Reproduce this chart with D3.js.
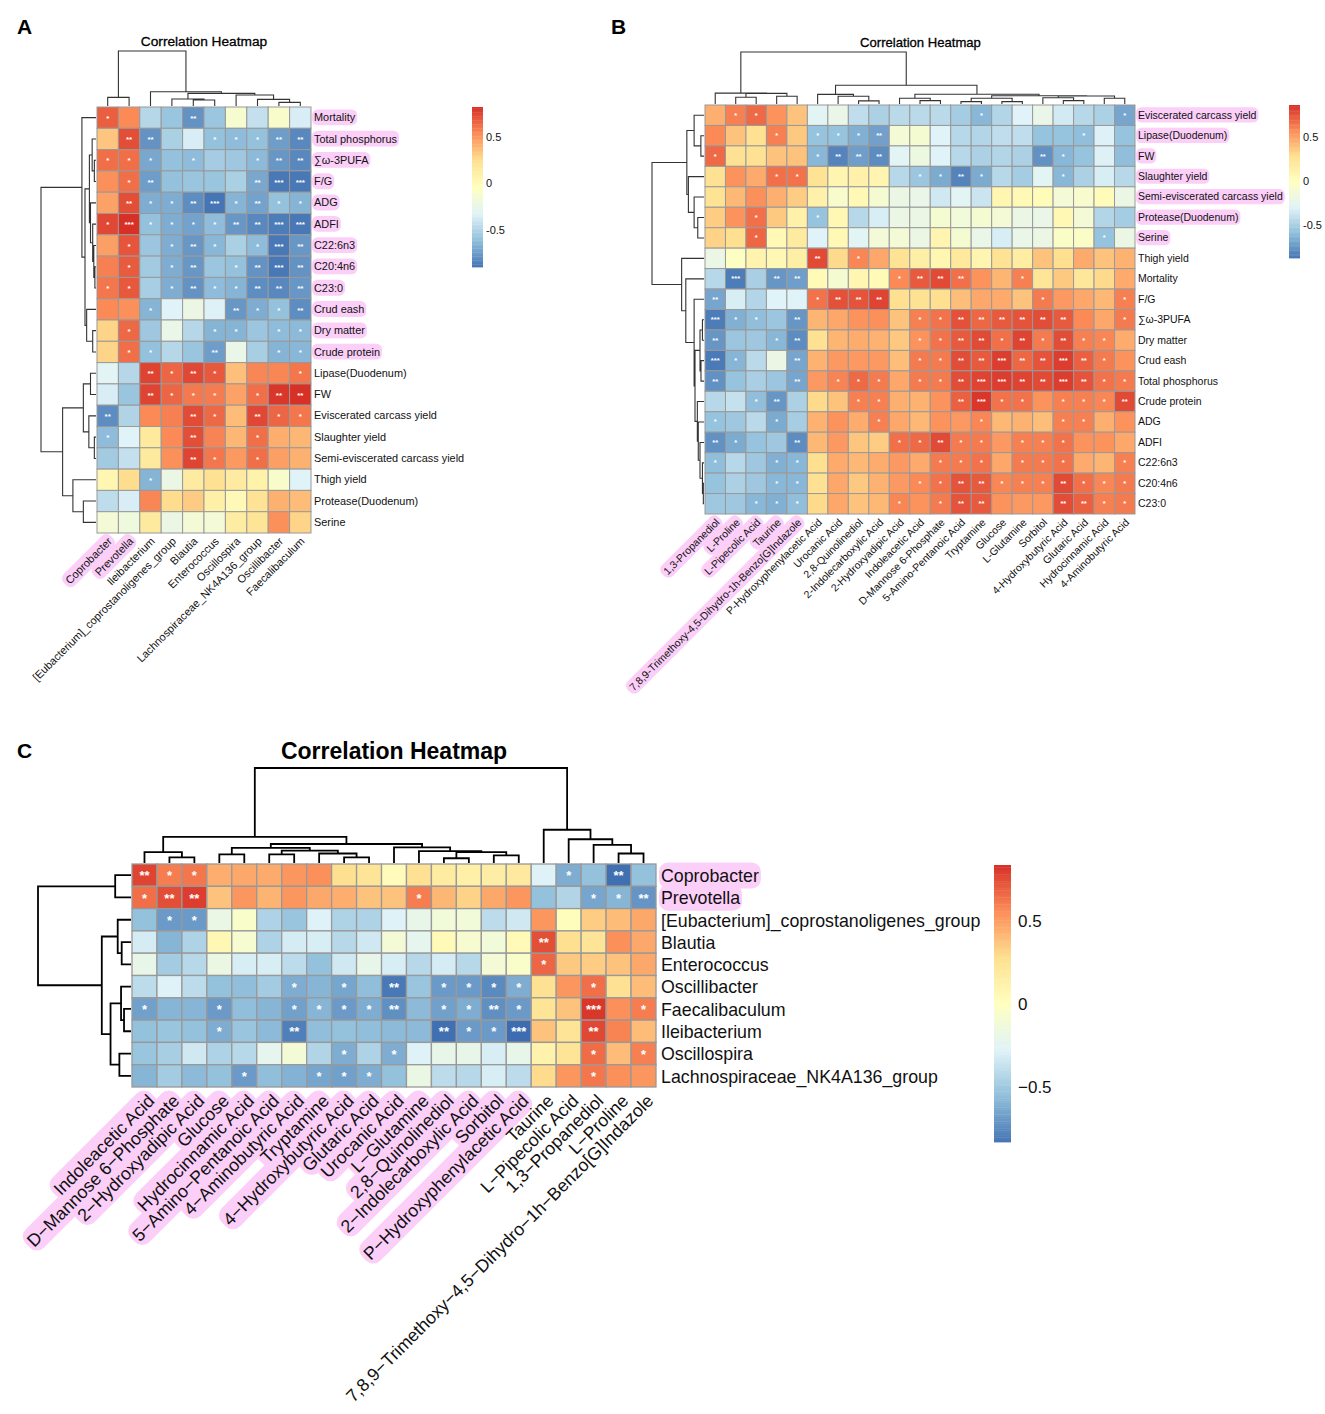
<!DOCTYPE html>
<html><head><meta charset="utf-8">
<script src="https://cdn.jsdelivr.net/npm/d3@7/dist/d3.min.js"></script>
<style>html,body{margin:0;padding:0;background:#fff}svg{display:block}text{font-family:"Liberation Sans",Arial,sans-serif}</style>
</head><body><svg id="fig" width="1325" height="1414"></svg>
<script>
const palette=["#4575B4","#91BFDB","#E0F3F8","#FFFFBF","#FEE090","#FC8D59","#D73027"];
const heatTitle="Correlation Heatmap";

// ---------- Panel A ----------
const rowsA=["Mortality","Total phosphorus","∑ω-3PUFA","F/G","ADG","ADFI","C22:6n3","C20:4n6","C23:0","Crud eash","Dry matter","Crude protein","Lipase(Duodenum)","FW","Eviscerated carcass yield","Slaughter yield","Semi-eviscerated carcass yield","Thigh yield","Protease(Duodenum)","Serine"];
const colsA=["Coprobacter","Prevotella","Ileibacterium","[Eubacterium]_coprostanoligenes_group","Blautia","Enterococcus","Oscillospira","Lachnospiraceae_NK4A136_group","Oscillibacter","Faecalibaculum"];
const valuesA=[
[.68,.55,-.45,-.55,-.75,-.54,-.1,-.4,-.08,-.33],
[.35,.73,-.75,-.49,-.33,-.57,-.59,-.57,-.71,-.79],
[.63,.63,-.67,-.57,-.59,-.51,-.53,-.6,-.73,-.79],
[.53,.63,-.71,-.57,-.55,-.55,-.49,-.67,-.85,-.85],
[.47,.73,-.65,-.65,-.77,-.86,-.62,-.69,-.57,-.62],
[.75,.82,-.57,-.65,-.69,-.59,-.73,-.79,-.83,-.85],
[.48,.71,-.54,-.65,-.73,-.61,-.49,-.59,-.85,-.73],
[.58,.69,-.52,-.65,-.73,-.54,-.57,-.75,-.85,-.75],
[.61,.7,-.5,-.65,-.75,-.59,-.62,-.77,-.79,-.73],
[.55,.53,-.62,-.3,-.2,-.31,-.73,-.65,-.57,-.77],
[.3,.65,-.53,-.22,-.45,-.62,-.62,-.54,-.59,-.6],
[.3,.63,-.57,-.45,-.55,-.71,-.22,-.5,-.62,-.61],
[-.28,-.45,.76,.66,.75,.7,.37,.56,.56,.61],
[-.33,-.55,.76,.66,.6,.59,.47,.63,.8,.82],
[-.77,-.47,.55,.58,.74,.65,.38,.75,.66,.61],
[-.59,-.3,.18,.55,.73,.57,.4,.63,.43,.4],
[-.52,-.4,.17,.53,.76,.61,.5,.63,.48,.42],
[.06,.27,-.62,-.2,.16,.25,.16,.1,-.08,-.3],
[-.42,-.33,.56,.27,.33,.12,.03,.23,.42,.38],
[-.13,-.17,.17,-.2,-.13,-.13,.15,.22,.53,.3]];
const starsA=[
[1,0,0,0,2,0,0,0,0,0],[0,2,2,0,0,1,1,1,2,2],[1,1,1,0,1,0,0,1,2,2],[0,1,2,0,0,0,0,2,3,3],
[0,2,1,1,2,3,1,2,1,1],[1,3,1,1,1,1,2,2,3,3],[0,1,0,1,2,1,0,1,3,2],[0,1,0,1,2,0,1,2,3,2],
[1,1,0,1,2,1,1,2,2,2],[0,0,1,0,0,0,2,1,1,2],[0,1,0,0,0,1,1,0,1,1],[0,1,1,0,0,2,0,0,1,1],
[0,0,2,1,2,1,0,0,0,1],[0,0,2,1,1,1,0,1,2,2],[2,0,0,0,2,1,0,2,1,1],[1,0,0,0,2,0,0,1,0,0],
[0,0,0,0,2,1,0,1,0,0],[0,0,1,0,0,0,0,0,0,0],[0,0,0,0,0,0,0,0,0,0],[0,0,0,0,0,0,0,0,0,0]];
const colTreeA=[1,[.157,0,1],[.26,2,[.23,[.127,3,[.108,4,5]],[.2,6,[.12,7,[.066,8,9]]]]]];
const rowTreeA=[1,[.256,0,[.2,[.12,[.07,1,[.03,2,3]],[.1,4,[.06,5,[.04,6,[.02,7,8]]]]],[.17,9,[.06,10,11]]]],[.607,[.23,[.1,12,13],[.13,14,[.03,15,16]]],[.42,17,[.23,18,19]]]];
const hiRowsA=rowsA.slice(0,12), hiColsA=colsA.slice(0,2);

// ---------- Panel B ----------
const rowsB=["Eviscerated carcass yield","Lipase(Duodenum)","FW","Slaughter yield","Semi-eviscerated carcass yield","Protease(Duodenum)","Serine","Thigh yield","Mortality","F/G","∑ω-3PUFA","Dry matter","Crud eash","Total phosphorus","Crude protein","ADG","ADFI","C22:6n3","C20:4n6","C23:0"];
const colsB=["1,3-Propanediol","L-Proline","L-Pipecolic Acid","Taurine","7,8,9-Trimethoxy-4,5-Dihydro-1h-Benzo[G]Indazole","P-Hydroxyphenylacetic Acid","Urocanic Acid","2,8-Quinolinediol","2-Indolecarboxylic Acid","2-Hydroxyadipic Acid","Indoleacetic Acid","D-Mannose 6-Phosphate","5-Amino-Pentanoic Acid","Tryptamine","Glucose","L-Glutamine","Sorbitol","4-Hydroxybutyric Acid","Glutaric Acid","Hydrocinnamic Acid","4-Aminobutyric Acid"];
const valuesB=[
[.45,.61,.68,.55,.38,-.28,-.22,-.42,-.49,-.44,-.44,-.44,-.52,-.62,-.47,-.3,-.22,-.35,-.45,-.49,-.69],
[.58,.38,.27,.61,.36,-.57,-.57,-.65,-.71,-.12,-.1,-.3,-.45,-.47,-.42,-.42,-.57,-.57,-.59,-.31,-.57],
[.68,.27,.27,.38,.38,-.62,-.82,-.72,-.79,-.28,-.18,-.3,-.45,-.49,-.47,-.49,-.77,-.62,-.57,-.31,-.59],
[.27,.55,.47,.66,.65,.25,.08,.12,.08,-.45,-.55,-.67,-.82,-.67,-.45,-.52,-.28,-.62,-.49,-.33,-.45],
[.25,.42,.56,.45,.35,.12,-.08,.05,-.1,-.2,-.22,-.36,-.28,-.38,.07,.05,.03,-.12,-.08,.02,-.2],
[.35,.55,.66,.36,.12,-.57,.06,-.45,-.33,-.2,-.2,-.1,-.14,-.1,-.12,-.2,-.22,.06,-.12,-.47,-.52],
[.33,.28,.69,.05,.18,-.3,.05,-.28,-.13,-.12,-.2,.08,-.1,-.22,-.33,-.22,-.2,-.05,-.05,-.57,-.2],
[-.2,-.03,.1,.06,.14,.78,.3,.59,.48,.25,.14,.07,.2,.08,.25,.16,.38,.28,.47,.38,.44],
[-.45,-.85,-.5,-.75,-.72,.04,-.1,.07,.04,.58,.73,.78,.66,.55,.43,.61,.23,.36,.22,.3,.47],
[-.69,-.33,-.47,-.3,-.3,.65,.76,.75,.8,.28,.26,.28,.4,.48,.47,.38,.63,.53,.48,.42,.61],
[-.85,-.65,-.59,-.55,-.75,.43,.48,.55,.56,.38,.61,.65,.76,.69,.73,.75,.77,.73,.58,.48,.63],
[-.75,-.55,-.54,-.62,-.79,.27,.43,.46,.44,.36,.55,.65,.73,.78,.66,.8,.63,.77,.61,.59,.46],
[-.86,-.63,-.44,-.2,-.69,.44,.53,.53,.53,.4,.63,.63,.77,.73,.82,.69,.75,.82,.71,.63,.55],
[-.77,-.57,-.5,-.55,-.69,.53,.6,.68,.63,.48,.63,.63,.77,.8,.82,.8,.78,.82,.75,.65,.63],
[-.45,-.4,-.59,-.75,-.49,.3,.38,.61,.61,.45,.44,.55,.71,.84,.65,.65,.55,.61,.61,.59,.78],
[-.57,-.54,-.44,-.67,-.51,.44,.55,.46,.61,.48,.42,.55,.53,.59,.42,.44,.4,.61,.61,.45,.55],
[-.77,-.67,-.57,-.54,-.79,.42,.53,.37,.35,.66,.68,.78,.63,.63,.53,.61,.61,.65,.55,.55,.48],
[-.59,-.45,-.54,-.65,-.62,.28,.47,.42,.46,.53,.47,.63,.63,.65,.48,.63,.63,.65,.47,.43,.61],
[-.57,-.49,-.54,-.62,-.62,.27,.48,.36,.44,.53,.58,.65,.75,.73,.59,.61,.61,.78,.66,.59,.63],
[-.54,-.54,-.62,-.65,-.59,.3,.48,.38,.42,.59,.55,.63,.75,.73,.55,.53,.53,.77,.71,.61,.63]];
const starsB=[
[0,1,1,0,0,0,0,0,0,0,0,0,0,1,0,0,0,0,0,0,1],
[0,0,0,1,0,1,1,1,2,0,0,0,0,0,0,0,0,0,1,0,0],
[1,0,0,0,0,1,2,2,2,0,0,0,0,0,0,0,2,1,0,0,0],
[0,0,0,1,1,0,0,0,0,0,1,1,2,1,0,0,0,1,0,0,0],
[0,0,0,0,0,0,0,0,0,0,0,0,0,0,0,0,0,0,0,0,0],
[0,0,1,0,0,1,0,0,0,0,0,0,0,0,0,0,0,0,0,0,0],
[0,0,1,0,0,0,0,0,0,0,0,0,0,0,0,0,0,0,0,1,0],
[0,0,0,0,0,2,0,1,0,0,0,0,0,0,0,0,0,0,0,0,0],
[0,3,0,2,2,0,0,0,0,1,2,2,2,0,0,1,0,0,0,0,0],
[2,0,0,0,0,1,2,2,2,0,0,0,0,0,0,0,1,0,0,0,1],
[3,1,1,0,2,0,0,0,0,0,1,1,2,2,2,2,2,2,0,0,1],
[2,0,0,1,2,0,0,0,0,0,1,1,2,2,1,2,1,2,1,1,0],
[3,1,0,0,2,0,0,0,0,0,1,1,2,2,3,2,2,3,2,1,0],
[2,0,0,0,2,0,1,1,1,0,1,1,2,3,3,2,2,3,2,1,1],
[0,0,1,2,0,0,0,1,1,0,0,0,2,3,1,1,0,1,1,1,2],
[1,0,0,1,0,0,0,0,1,0,0,0,0,1,0,0,0,1,1,0,0],
[2,1,0,0,2,0,0,0,0,1,1,2,1,1,0,1,1,1,0,0,0],
[1,0,0,1,1,0,0,0,0,0,0,1,1,1,0,1,1,1,0,0,1],
[0,0,0,1,1,0,0,0,0,0,1,1,2,2,1,1,1,2,1,1,1],
[0,0,1,1,1,0,0,0,0,1,0,1,2,2,0,0,0,2,2,1,1]];
const colTreeB=[1,[.21,0,[.205,[.13,1,2],[.15,3,4]]],[.36,[.186,5,[.15,6,[.06,7,8]]],[.187,[.11,9,[.065,10,11]],[.16,[.11,[.045,12,13],[.045,14,15]],[.154,[.12,16,[.065,17,18]],[.11,19,20]]]]]];
const rowTreeB=[1,[.33,[.19,0,[.06,1,2]],[.3,3,[.19,4,[.12,5,6]]]],[.43,7,[.35,8,[.19,9,[.173,[.077,[.03,10,11],[.058,12,13]],[.128,14,[.11,15,[.077,16,[.03,17,[.013,18,19]]]]]]]]]];
const hiRowsB=rowsB.slice(0,7), hiColsB=colsB.slice(0,5);

// ---------- Panel C ----------
const rowsC=["Coprobacter","Prevotella","[Eubacterium]_coprostanoligenes_group","Blautia","Enterococcus","Oscillibacter","Faecalibaculum","Ileibacterium","Oscillospira","Lachnospiraceae_NK4A136_group"];
const colsC=["Indoleacetic Acid","D−Mannose 6−Phosphate","2−Hydroxyadipic Acid","Glucose","Hydrocinnamic Acid","5−Amino−Pentanoic Acid","4−Aminobutyric Acid","Tryptamine","4−Hydroxybutyric Acid","Glutaric Acid","Urocanic Acid","L−Glutamine","2,8−Quinolinediol","2−Indolecarboxylic Acid","Sorbitol","P−Hydroxyphenylacetic Acid","Taurine","L−Pipecolic Acid","1,3−Propanediol","L−Proline","7,8,9−Trimethoxy−4,5−Dihydro−1h−Benzo[G]Indazole"];
const valuesC=[
[.78,.61,.63,.45,.47,.46,.53,.55,.28,.25,.03,.27,.18,.14,.16,.2,-.28,-.62,-.54,-.85,-.54],
[.65,.75,.8,.38,.53,.43,.53,.47,.45,.38,.38,.61,.42,.33,.47,.53,-.54,-.44,-.65,-.59,-.71],
[-.54,-.69,-.69,-.18,-.05,-.45,-.52,-.28,-.45,-.45,-.28,-.2,-.12,-.12,-.4,-.33,.53,.02,.35,.4,.47],
[-.31,-.59,-.45,.07,-.08,-.45,-.31,-.3,-.42,-.33,-.1,-.22,.05,-.08,-.12,.05,.75,.28,.25,.55,.47],
[-.2,-.49,-.42,-.17,-.3,-.3,-.4,-.54,-.33,-.2,-.3,-.42,-.31,-.42,-.1,-.05,.68,.36,.35,.38,.47],
[-.4,-.28,-.4,-.54,-.55,-.49,-.62,-.59,-.65,-.55,-.82,-.52,-.69,-.69,-.75,-.62,.27,.53,.65,.27,.4],
[-.67,-.59,-.59,-.69,-.55,-.59,-.67,-.59,-.69,-.62,-.73,-.57,-.67,-.62,-.73,-.69,.25,.38,.82,.55,.61],
[-.54,-.52,-.54,-.62,-.52,-.57,-.79,-.55,-.54,-.55,-.57,-.57,-.85,-.69,-.69,-.86,.38,.25,.77,.59,.4],
[-.52,-.47,-.33,-.45,-.42,-.22,-.1,-.44,-.62,-.45,-.62,-.28,-.2,-.2,-.3,-.2,.12,.25,.66,.4,.6],
[-.59,-.49,-.57,-.54,-.69,-.55,-.6,-.65,-.67,-.62,-.54,-.18,-.4,-.42,-.3,-.4,.3,.53,.63,.55,.53]];
const starsC=[
[2,1,1,0,0,0,0,0,0,0,0,0,0,0,0,0,0,1,0,2,0],
[1,2,2,0,0,0,0,0,0,0,0,1,0,0,0,0,0,0,1,1,2],
[0,1,1,0,0,0,0,0,0,0,0,0,0,0,0,0,0,0,0,0,0],
[0,0,0,0,0,0,0,0,0,0,0,0,0,0,0,0,2,0,0,0,0],
[0,0,0,0,0,0,0,0,0,0,0,0,0,0,0,0,1,0,0,0,0],
[0,0,0,0,0,0,1,0,1,0,2,0,1,1,1,1,0,0,1,0,0],
[1,0,0,1,0,0,1,1,1,1,2,0,1,1,2,1,0,0,3,0,1],
[0,0,0,1,0,0,2,0,0,0,0,0,2,1,1,3,0,0,2,0,0],
[0,0,0,0,0,0,0,0,1,0,1,0,0,0,0,0,0,0,1,0,1],
[0,0,0,0,1,0,0,1,1,1,0,0,0,0,0,0,0,0,1,0,0]];
const colTreeC=[1,[.276,[.114,0,[.06,1,2]],[.2,[.16,[.09,3,4],[.13,[.09,5,6],[.1,7,[.06,8,9]]]],[.165,10,[.125,11,[.114,[.05,12,13],[.08,14,15]]]]]],[.35,16,[.25,17,[.19,18,[.1,19,20]]]]];
const rowTreeC=[1,[.17,0,1],[.314,[.143,2,[.1,3,4]],[.22,[.107,5,[.075,6,7]],[.125,8,9]]]];
const hiRowsC=rowsC.slice(0,2), hiColsC=colsC.slice(0,16);

// ---------- Legend ticks ----------
const legendTicks=[0.5,0,-0.5];

const svg=d3.select("#fig");
const pink="#FBCFF8";

function drawTree(g,tree,bandPos,baseEnd,heightScale,vertical,col,lw){
  const root=d3.hierarchy(tree,d=>Array.isArray(d)?d.slice(1):null);
  root.eachAfter(n=>{
    if(!n.children){n.pos=bandPos(n.data);n.h=0;}
    else{n.pos=d3.mean(n.children,c=>c.pos);n.h=n.data[0];}
  });
  const p=d3.path();
  root.descendants().filter(n=>n.children).forEach(n=>{
    const [a,b]=n.children;
    const pt=(pos,h)=>vertical?[pos,heightScale(h)]:[heightScale(h),pos];
    p.moveTo(...pt(a.pos,a.h));p.lineTo(...pt(a.pos,n.h));p.lineTo(...pt(b.pos,n.h));p.lineTo(...pt(b.pos,b.h));
  });
  g.append("path").attr("d",p.toString()).attr("fill","none").attr("stroke",col).attr("stroke-width",lw);
}

function panel(o){
  const x=d3.scaleBand().domain(d3.range(o.cols.length)).range([o.left,o.right]);
  const y=d3.scaleBand().domain(d3.range(o.rows.length)).range([o.top,o.bottom]);
  const stops=d3.range(7).map(i=>o.cmin+(o.cmax-o.cmin)*i/6);
  const color=d3.scaleLinear().domain(stops).range(palette).interpolate(d3.interpolateRgb);
  const g=svg.append("g");
  svg.append("text").attr("x",o.letterX).attr("y",o.letterY).attr("font-size",21).attr("font-weight","bold").text(o.letter);
  g.append("text").attr("x",o.titleX).attr("y",o.titleY).attr("text-anchor","middle").attr("font-size",o.titleSize)
    .attr("font-weight",o.titleWeight).attr("stroke",o.titleStroke||"none").attr("stroke-width",.3).text(heatTitle);
  o.values.forEach((row,r)=>row.forEach((v,c)=>{
    g.append("rect").attr("x",x(c)).attr("y",y(r)).attr("width",x.bandwidth()).attr("height",y.bandwidth())
      .attr("fill",color(v)).attr("stroke","#999").attr("stroke-width",o.cellStroke);
  }));
  o.values.forEach((row,r)=>row.forEach((v,c)=>{
    const n=o.stars[r][c];
    if(n)g.append("text").attr("x",x(c)+x.bandwidth()/2).attr("y",y(r)+y.bandwidth()*o.starY)
      .attr("text-anchor","middle").attr("fill","#fff").attr("font-size",o.starSize).attr("font-weight","bold").text("*".repeat(n));
  }));
  const hCol=d3.scaleLinear().domain([0,1]).range([o.top-o.treeGap,o.colRootY]);
  const hRow=d3.scaleLinear().domain([0,1]).range([o.left-o.treeGap,o.rowRootX]);
  drawTree(g,o.colTree,i=>x(i)+x.bandwidth()/2,0,hCol,true,o.treeColor,o.treeWidth);
  drawTree(g,o.rowTree,i=>y(i)+y.bandwidth()/2,0,hRow,false,o.treeColor,o.treeWidth);
  const bg=g.append("g"),fg=g.append("g");
  o.rows.forEach((t,r)=>{
    const tx=fg.append("text").attr("x",o.right+o.rowLabelGap).attr("y",y(r)+y.bandwidth()/2+o.labelSize*o.rowBase).attr("font-size",o.labelSize).attr("fill","#111").text(t);
    if(o.hiRows.includes(t)){
      const w=tx.node().getComputedTextLength(),h=o.labelSize*1.45;
      bg.append("rect").attr("x",o.right+o.rowLabelGap-2).attr("y",y(r)+y.bandwidth()/2+o.labelSize*(o.rowBase-.36)-h/2).attr("width",w+4).attr("height",h).attr("rx",h*.35).attr("fill",pink);
    }
  });
  o.cols.forEach((t,c)=>{
    const cx=x(c)+x.bandwidth()/2+o.colLabelDx, cy=o.bottom+o.colLabelDy;
    const tg=`translate(${cx},${cy}) rotate(-45)`;
    const tx=fg.append("text").attr("transform",tg).attr("text-anchor","end").attr("font-size",o.colLabelSize).attr("fill","#111").text(t);
    if(o.hiCols.includes(t)){
      const w=tx.node().getComputedTextLength(),h=o.colLabelSize*1.45;
      bg.append("rect").attr("transform",tg).attr("x",-w-3).attr("y",-o.colLabelSize*.36-h/2).attr("width",w+6).attr("height",h).attr("rx",h*.4).attr("fill",pink);
    }
  });
  const ly=d3.scaleLinear().domain([o.legMin,o.legMax]).range([o.legBottom,o.legTop]);
  const n=120,lg=g.append("g");
  d3.range(n).forEach(i=>{
    const v0=o.legMin+(o.legMax-o.legMin)*i/n,v1=o.legMin+(o.legMax-o.legMin)*(i+1)/n;
    lg.append("rect").attr("x",o.legLeft).attr("width",o.legWidth).attr("y",ly(v1)).attr("height",ly(v0)-ly(v1)+.4)
      .attr("fill",color(o.cmin+(o.cmax-o.cmin)*(i+.5)/n));
  });
  const ax=d3.axisRight(ly).tickValues(legendTicks).tickSize(0).tickPadding(o.legPad)
    .tickFormat(v=>v===0?"0":(v<0?o.minus:"")+Math.abs(v));
  const ag=g.append("g").attr("transform",`translate(${o.legLeft+o.legWidth},0)`).call(ax);
  ag.select(".domain").remove();
  ag.selectAll("text").attr("font-size",o.legFont).attr("fill","#111").style("font-family",'"Liberation Sans",Arial,sans-serif');
}

panel({letter:"A",letterX:17,letterY:34,titleX:204,titleY:46,titleSize:13.7,titleWeight:"normal",titleStroke:"#000",
  rows:rowsA,cols:colsA,values:valuesA,stars:starsA,colTree:colTreeA,rowTree:rowTreeA,hiRows:hiRowsA,hiCols:hiColsA,
  left:97,right:311,top:107,bottom:533,cmin:-.86,cmax:.82,cellStroke:1,starSize:8,starY:.65,
  treeGap:1,colRootY:51,rowRootX:41,treeColor:"#333",treeWidth:1.1,
  labelSize:10.9,rowBase:.33,rowLabelGap:3,colLabelSize:11,colLabelDx:5,colLabelDy:9,
  legMin:-.9,legMax:.82,legTop:107,legBottom:267,legLeft:472,legWidth:11,legPad:3,legFont:11,minus:"-"});
panel({letter:"B",letterX:611,letterY:34,titleX:920.5,titleY:47,titleSize:13.1,titleWeight:"normal",titleStroke:"#000",
  rows:rowsB,cols:colsB,values:valuesB,stars:starsB,colTree:colTreeB,rowTree:rowTreeB,hiRows:hiRowsB,hiCols:hiColsB,
  left:705,right:1135,top:105,bottom:514,cmin:-.88,cmax:.86,cellStroke:1,starSize:7.5,starY:.62,
  treeGap:1,colRootY:52,rowRootX:652,treeColor:"#333",treeWidth:1.1,
  labelSize:10.5,rowBase:.33,rowLabelGap:3,colLabelSize:10.5,colLabelDx:5,colLabelDy:9,
  legMin:-.88,legMax:.86,legTop:105,legBottom:258,legLeft:1289,legWidth:11,legPad:3,legFont:11,minus:"-"});
panel({letter:"C",letterX:17,letterY:758,titleX:394,titleY:759,titleSize:23,titleWeight:"bold",
  rows:rowsC,cols:colsC,values:valuesC,stars:starsC,colTree:colTreeC,rowTree:rowTreeC,hiRows:hiRowsC,hiCols:hiColsC,
  left:132,right:656,top:864,bottom:1087,cmin:-.83,cmax:.84,cellStroke:1.3,starSize:13,starY:.73,
  treeGap:1,colRootY:768,rowRootX:38,treeColor:"#000",treeWidth:1.8,
  labelSize:17.8,rowBase:.38,rowLabelGap:5,colLabelSize:17.8,colLabelDx:11,colLabelDy:15,
  legMin:-.83,legMax:.84,legTop:865,legBottom:1142,legLeft:994,legWidth:17,legPad:7,legFont:17,minus:"−"});
</script></body></html>
